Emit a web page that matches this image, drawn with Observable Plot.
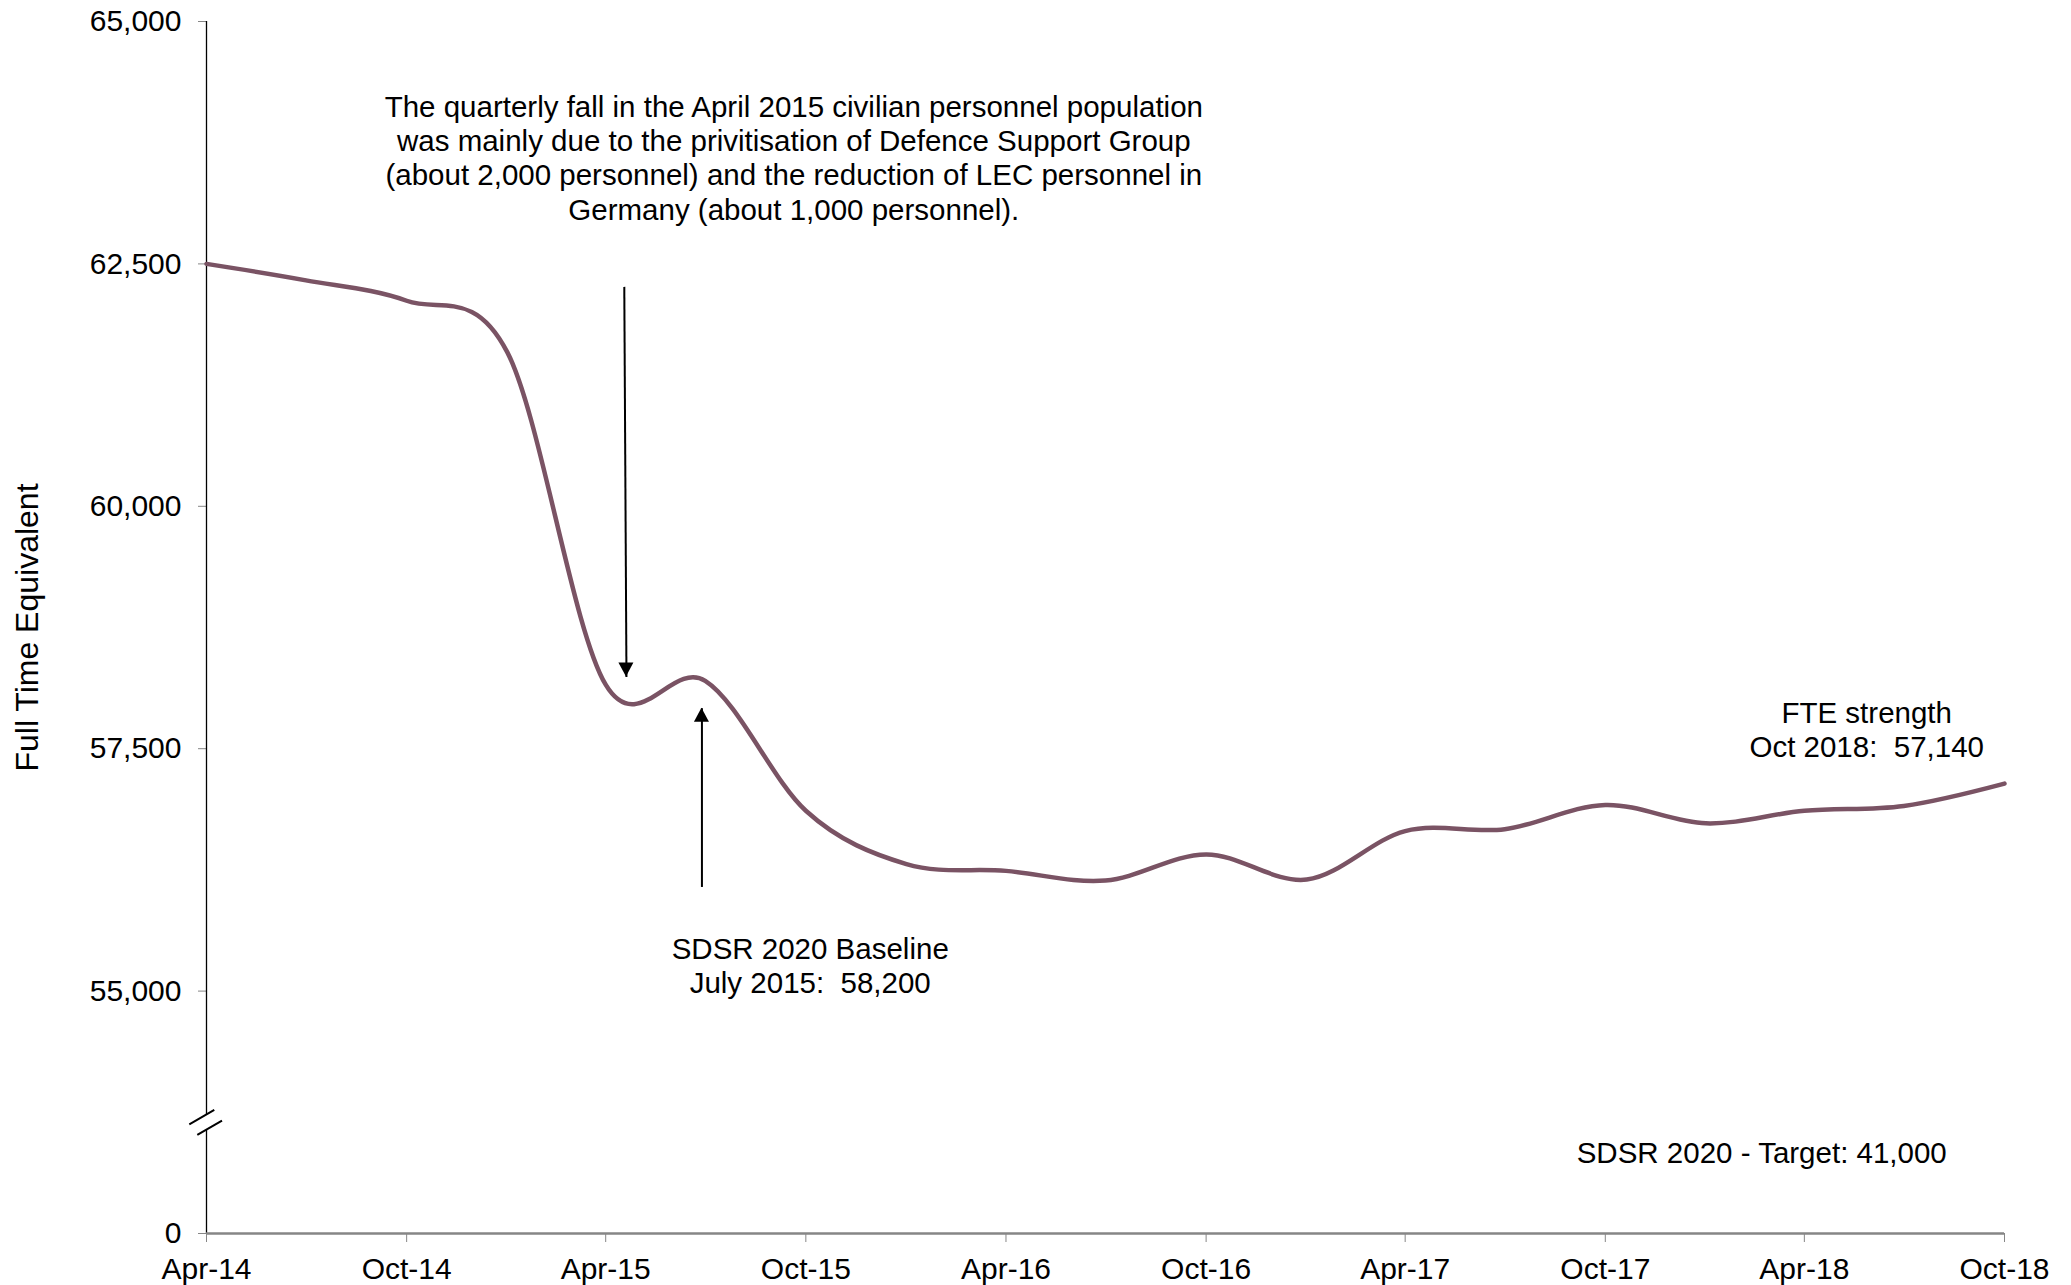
<!DOCTYPE html>
<html>
<head>
<meta charset="utf-8">
<script src="https://cdn.jsdelivr.net/npm/d3@7"></script>
<script src="https://cdn.jsdelivr.net/npm/@observablehq/plot@0.6"></script>
<style>
  html, body { margin: 0; padding: 0; background: #fff; }
  svg text { white-space: pre; }
</style>
</head>
<body>
<div id="chart"></div>
<script>
// Quarterly civilian full time equivalent (FTE) strength
const quarters = ["Apr-14", "Jul-14", "Oct-14", "Jan-15", "Apr-15", "Jul-15", "Oct-15",
  "Jan-16", "Apr-16", "Jul-16", "Oct-16", "Jan-17", "Apr-17", "Jul-17", "Oct-17",
  "Jan-18", "Apr-18", "Jul-18", "Oct-18"];
const fte = [62500, 62330, 62120, 61590, 58160, 58200, 56860,
  56310, 56240, 56140, 56410, 56150, 56650, 56670, 56920,
  56730, 56860, 56910, 57140];

// Axis ticks
const xTickLabels = ["Apr-14", "Oct-14", "Apr-15", "Oct-15", "Apr-16", "Oct-16",
  "Apr-17", "Oct-17", "Apr-18", "Oct-18"];
const yTickValues = [0, 55000, 57500, 60000, 62500, 65000];
const yTop = 65000;
const axisFloor = 52500;   // where the 0 tick sits below the axis break
const breakValue = 53640;  // where the axis break is drawn

// Text notes (anchor date, anchor value, text)
const noteDates = ["2015-09-20", "2015-10-05", "2018-05-28", "2018-02-21"];
const noteValues = [63600, 55265, 57699, 53341];
const noteTexts = [
  "The quarterly fall in the April 2015 civilian personnel population\nwas mainly due to the privitisation of Defence Support Group\n(about 2,000 personnel) and the reduction of LEC personnel in\nGermany (about 1,000 personnel).",
  "SDSR 2020 Baseline\nJuly 2015:  58,200",
  "FTE strength\nOct 2018:  57,140",
  "SDSR 2020 - Target: 41,000"
];

// Pointer arrows (start date/value -> tip date/value)
const arrowFromDates = ["2015-04-18", "2015-06-28"];
const arrowToDates = ["2015-04-20", "2015-06-28"];
const arrowFromValues = [62263, 56074];
const arrowToValues = [58240, 57918];

const parseQ = d3.utcParse("%b-%y");
const parseD = d3.utcParse("%Y-%m-%d");
const fmt = d3.format(",");

const series = quarters.map((q, i) => ({date: parseQ(q), value: fte[i]}));
const notes = noteTexts.map((t, i) => ({date: parseD(noteDates[i]), value: noteValues[i], text: t}));
const arrows = arrowFromDates.map((d, i) => ({
  x1: parseD(d), x2: parseD(arrowToDates[i]), y1: arrowFromValues[i], y2: arrowToValues[i]
}));
const xTicks = xTickLabels.map(parseQ);
const yTicks = yTickValues.map(v => v === 0 ? axisFloor : v);

const lineColor = "#7a5364";
const axisGray = "#868686";

const chart = Plot.plot({
  width: 2071,
  height: 1285,
  marginLeft: 206,
  marginRight: 67,
  marginTop: 21,
  marginBottom: 52,
  style: {
    fontFamily: "'Liberation Sans', Arial, sans-serif",
    fontSize: "29.5px",
    background: "#fff",
    color: "#000"
  },
  x: {type: "utc", domain: [xTicks[0], xTicks[xTicks.length - 1]]},
  y: {domain: [axisFloor, yTop]},
  marks: [
    Plot.axisX({
      ticks: xTicks, tickFormat: d3.utcFormat("%b-%y"), tickSize: 9, tickPadding: 15.5,
      stroke: axisGray, fill: "#000", fontSize: 30, label: null
    }),
    Plot.axisY({
      ticks: yTicks, tickFormat: d => d === axisFloor ? "0" : fmt(d), tickSize: 8, tickPadding: 17,
      stroke: axisGray, fill: "#000", fontSize: 30, label: null
    }),
    Plot.ruleX([xTicks[0]], {stroke: "#000", strokeWidth: 1.3}),
    Plot.ruleY([axisFloor], {stroke: axisGray, strokeWidth: 2.5}),
    Plot.text(["Full Time Equivalent"], {
      frameAnchor: "left", textAnchor: "middle", dx: -179, rotate: -90, fontSize: 32
    }),
    Plot.line(series, {x: "date", y: "value", curve: "cardinal", tension: 0,
      stroke: lineColor, strokeWidth: 4.5}),
    Plot.link(arrows, {x1: "x1", y1: "y1", x2: "x2", y2: "y2", stroke: "#000", strokeWidth: 2}),
    Plot.text(notes, {x: "date", y: "value", text: "text", lineAnchor: "middle",
      lineHeight: 1.16, textAnchor: "middle", fontSize: 29.5, fill: "#000"})
  ]
});

// Filled arrowheads and the y-axis break, placed through the chart's own scales
const sx = chart.scale("x");
const sy = chart.scale("y");
const svg = d3.select(chart);

arrows.forEach(a => {
  const x0 = sx.apply(a.x1), y0 = sy.apply(a.y1);
  const x1 = sx.apply(a.x2), y1 = sy.apply(a.y2);
  const len = Math.hypot(x1 - x0, y1 - y0);
  const ux = (x1 - x0) / len, uy = (y1 - y0) / len;
  const hl = 14, hw = 7.5;
  const bx = x1 - ux * hl, by = y1 - uy * hl;
  svg.append("path")
    .attr("d", `M${x1},${y1}L${bx - uy * hw},${by + ux * hw}L${bx + uy * hw},${by - ux * hw}Z`)
    .attr("fill", "#000");
});

const ax = sx.apply(xTicks[0]);
const by = sy.apply(breakValue);
const brk = svg.append("g");
brk.append("path")
  .attr("d", `M${ax - 16.7},${by + 1.8}L${ax + 8.3},${by - 12.5}L${ax + 16},${by - 1.8}L${ax - 8.7},${by + 12.5}Z`)
  .attr("fill", "#fff");
brk.append("path")
  .attr("d", `M${ax - 16.7},${by + 1.8}L${ax + 8.3},${by - 12.5}M${ax - 8.7},${by + 12.5}L${ax + 16},${by - 1.8}`)
  .attr("stroke", "#000").attr("stroke-width", 2).attr("fill", "none");

document.getElementById("chart").appendChild(chart);
</script>
</body>
</html>
